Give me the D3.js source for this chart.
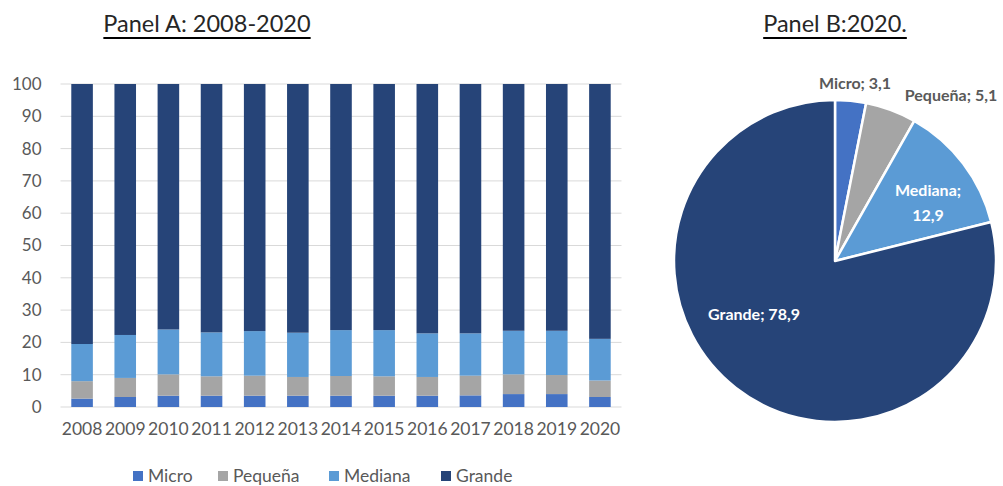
<!DOCTYPE html>
<html><head><meta charset="utf-8">
<script src="https://cdn.jsdelivr.net/npm/d3@7"></script>
<style>body{margin:0;background:#fff}svg{display:block}</style>
</head><body><svg id="c" width="1003" height="486"></svg>
<script>
const years = ["2008","2009","2010","2011","2012","2013","2014","2015","2016","2017","2018","2019","2020"];
const seriesNames = ["Micro","Pequeña","Mediana","Grande"];
const micro   = [2.6,3.1,3.5,3.5,3.5,3.5,3.5,3.5,3.5,3.6,4.0,4.0,3.1];
const pequena = [5.4,5.9,6.6,6.0,6.2,5.8,6.1,6.0,5.8,6.1,6.1,5.9,5.1];
const mediana = [11.5,13.3,13.9,13.6,13.8,13.7,14.2,14.3,13.5,13.1,13.5,13.7,12.9];
const grande  = [80.5,77.7,76.0,76.9,76.5,77.0,76.2,76.2,77.2,77.2,76.4,76.4,78.9];
const yTicks = [0,10,20,30,40,50,60,70,80,90,100];
const pieLabels = ["Micro","Pequeña","Mediana","Grande"];
const pieValues = [3.1,5.1,12.9,78.9];
const colors = ["#4472C4","#A5A5A5","#5B9BD5","#264478"];
const font = "Lato, 'Open Sans', sans-serif";

const svg = d3.select("#c");
const seriesVals = [micro, pequena, mediana, grande];
const rows = years.map((y,i)=>{const r={year:y}; seriesNames.forEach((s,k)=>r[s]=seriesVals[k][i]); return r;});

// Panel A
const x = d3.scaleBand().domain(years).range([60.5,621.5]).paddingInner(0.5).paddingOuter(0.25);
const y = d3.scaleLinear().domain([0,100]).range([407,84]);

svg.append("g").selectAll("line").data(yTicks).join("line")
  .attr("x1",60.5).attr("x2",621.5).attr("y1",d=>y(d)).attr("y2",d=>y(d))
  .attr("stroke","#d9d9d9").attr("stroke-width",1);

const stack = d3.stack().keys(seriesNames)(rows);
svg.append("g").selectAll("g").data(stack).join("g").attr("fill",(d,i)=>colors[i])
  .selectAll("rect").data(d=>d).join("rect")
  .attr("x",d=>x(d.data.year)).attr("width",x.bandwidth())
  .attr("y",d=>y(d[1])).attr("height",d=>y(d[0])-y(d[1]));

const yAxis = svg.append("g").attr("transform","translate(60.5,0)")
  .call(d3.axisLeft(y).tickValues(yTicks).tickSize(0).tickPadding(19));
yAxis.select(".domain").remove();
yAxis.selectAll("text").attr("font-family",font).attr("font-size",17).attr("fill","#595959");

const xAxis = svg.append("g").attr("transform","translate(0,407)")
  .call(d3.axisBottom(x).tickSize(0).tickPadding(16));
xAxis.select(".domain").remove();
xAxis.selectAll("text").attr("font-family",font).attr("font-size",17.5).attr("fill","#595959");

// Legend
const legX = [133,218,329,441];
const leg = svg.append("g").selectAll("g").data(seriesNames).join("g")
  .attr("transform",(d,i)=>`translate(${legX[i]},471)`);
leg.append("rect").attr("width",10).attr("height",10).attr("fill",(d,i)=>colors[i]);
leg.append("text").attr("x",15).attr("y",11).text(d=>d)
  .attr("font-family",font).attr("font-size",17.5).attr("fill","#595959");

// Titles
function title(txt,cx){
  const t = svg.append("text").attr("x",cx).attr("y",32).attr("text-anchor","middle")
    .attr("font-family",font).attr("font-size",23.5).attr("fill","#262626").text(txt);
  const bb = t.node().getBBox();
  svg.append("line").attr("x1",bb.x).attr("x2",bb.x+bb.width).attr("y1",38).attr("y2",38)
    .attr("stroke","#000").attr("stroke-width",2);
}
title("Panel A: 2008-2020",207);
title("Panel B:2020.",835);

// Panel B pie
const pieData = pieLabels.map((l,i)=>({label:l,value:pieValues[i]}));
const arcs = d3.pie().sort(null).value(d=>d.value)(pieData);
const arc = d3.arc().innerRadius(0).outerRadius(161);
const pg = svg.append("g").attr("transform","translate(835,261)");
pg.selectAll("path").data(arcs).join("path").attr("d",arc)
  .attr("fill",(d,i)=>colors[i]).attr("stroke","#fff").attr("stroke-width",2.5).attr("stroke-linejoin","round");

const fmt = v => String(v).replace(".",",");
const lab = svg.append("g").attr("font-family",font).attr("font-weight","bold").attr("font-size",16);
lab.append("text").attr("x",855).attr("y",89).attr("text-anchor","middle").attr("fill","#595959")
  .text(`${pieLabels[0]}; ${fmt(pieValues[0])}`);
lab.append("text").attr("x",951).attr("y",101).attr("text-anchor","middle").attr("fill","#595959")
  .text(`${pieLabels[1]}; ${fmt(pieValues[1])}`);
lab.append("text").attr("x",928).attr("y",196).attr("text-anchor","middle").attr("fill","#fff")
  .text(`${pieLabels[2]};`);
lab.append("text").attr("x",928).attr("y",221).attr("text-anchor","middle").attr("fill","#fff")
  .text(fmt(pieValues[2]));
lab.append("text").attr("x",754).attr("y",320).attr("text-anchor","middle").attr("fill","#fff")
  .text(`${pieLabels[3]}; ${fmt(pieValues[3])}`);
</script></body></html>
